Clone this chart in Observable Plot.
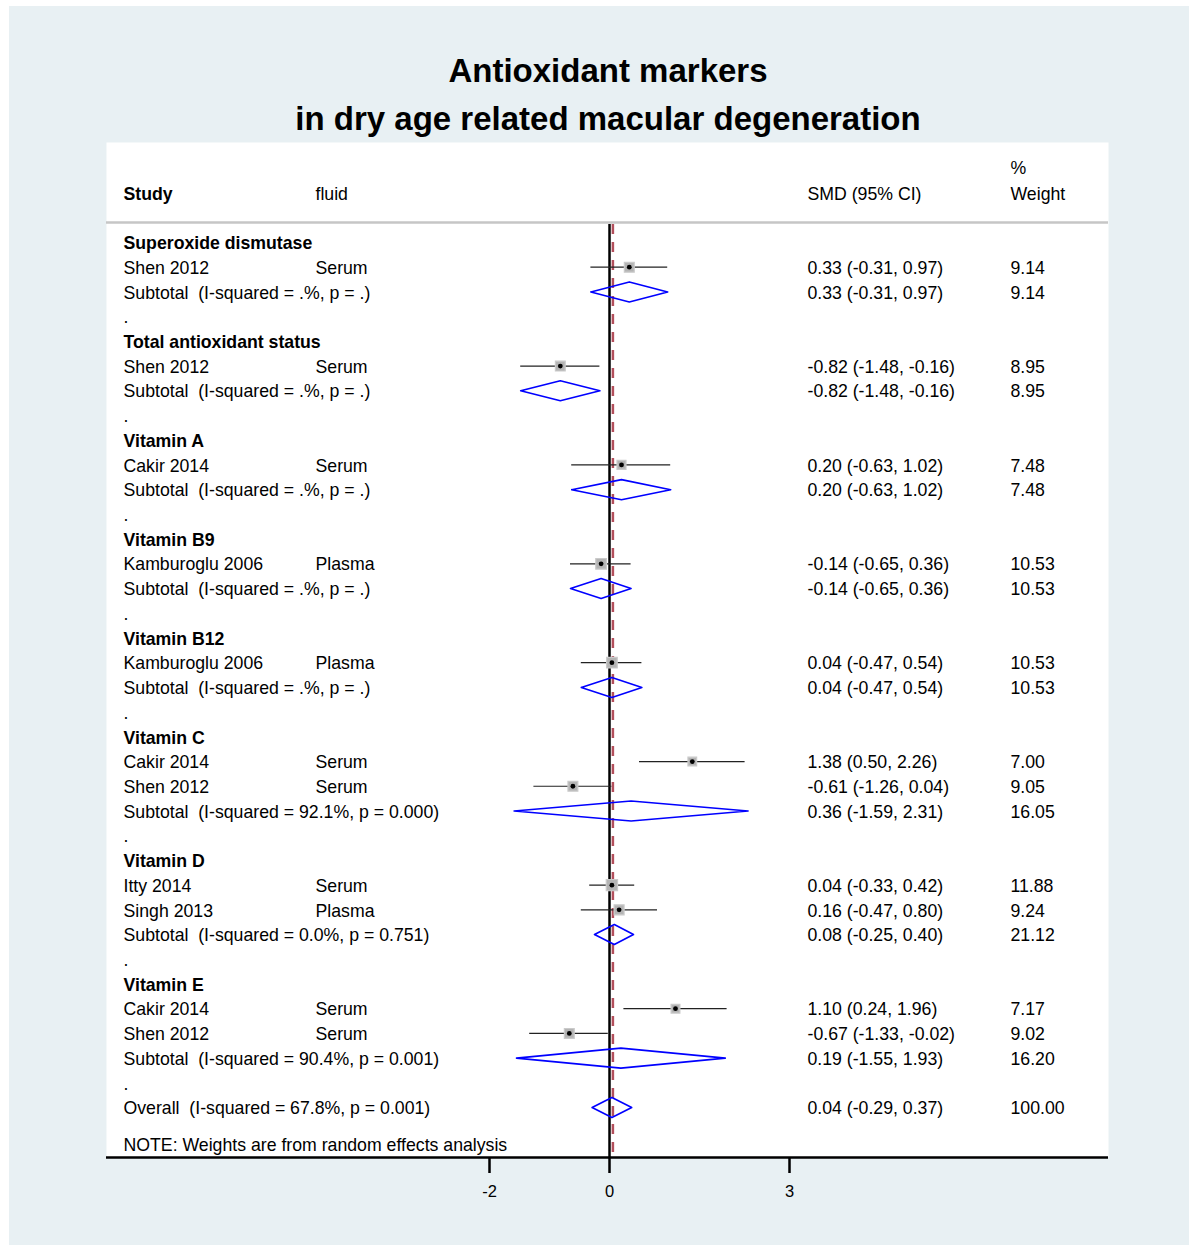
<!DOCTYPE html>
<html>
<head>
<meta charset="utf-8">
<script src="https://cdn.jsdelivr.net/npm/d3@7"></script>
<script src="https://cdn.jsdelivr.net/npm/@observablehq/plot@0.6"></script>
<style>
  html, body { margin: 0; padding: 0; background: #ffffff; }
  #page { position: relative; width: 1189px; height: 1246px; overflow: hidden; font-family: "Liberation Sans", Arial, Helvetica, sans-serif; }
  #bg { position: absolute; left: 9px; top: 6px; width: 1180px; height: 1239px; background: #e8f0f3; }
  #title { position: absolute; left: 0; width: 1216px; top: 47px; text-align: center; font-weight: bold; font-size: 33px; line-height: 48px; color: #000; }
  #chart { position: absolute; left: 0; top: 142px; }
  #chart svg text { white-space: pre; }
</style>
</head>
<body>
<div id="page">
  <div id="bg"></div>
  <div id="title">Antioxidant markers<br>in dry age related macular degeneration</div>
  <div id="chart"></div>
</div>
<script>
// ---------- data ----------
const groups = ["Superoxide dismutase", "Total antioxidant status", "Vitamin A", "Vitamin B9", "Vitamin B12", "Vitamin C", "Vitamin D", "Vitamin E"];

const studyNames  = ["Shen 2012", "Shen 2012", "Cakir 2014", "Kamburoglu 2006", "Kamburoglu 2006", "Cakir 2014", "Shen 2012", "Itty 2014", "Singh 2013", "Cakir 2014", "Shen 2012"];
const studyGroup  = [0, 1, 2, 3, 4, 5, 5, 6, 6, 7, 7];
const studyFluid  = ["Serum", "Serum", "Serum", "Plasma", "Plasma", "Serum", "Serum", "Serum", "Plasma", "Serum", "Serum"];
const studySmd    = [0.33, -0.82, 0.20, -0.14, 0.04, 1.38, -0.61, 0.04, 0.16, 1.10, -0.67];
const studyLo     = [-0.31, -1.48, -0.63, -0.65, -0.47, 0.50, -1.26, -0.33, -0.47, 0.24, -1.33];
const studyHi     = [0.97, -0.16, 1.02, 0.36, 0.54, 2.26, 0.04, 0.42, 0.80, 1.96, -0.02];
const studyWeight = [9.14, 8.95, 7.48, 10.53, 10.53, 7.00, 9.05, 11.88, 9.24, 7.17, 9.02];

const subHet    = [".%, p = .", ".%, p = .", ".%, p = .", ".%, p = .", ".%, p = .", "92.1%, p = 0.000", "0.0%, p = 0.751", "90.4%, p = 0.001"];
const subSmd    = [0.33, -0.82, 0.20, -0.14, 0.04, 0.36, 0.08, 0.19];
const subLo     = [-0.31, -1.48, -0.63, -0.65, -0.47, -1.59, -0.25, -1.55];
const subHi     = [0.97, -0.16, 1.02, 0.36, 0.54, 2.31, 0.40, 1.93];
const subWeight = [9.14, 8.95, 7.48, 10.53, 10.53, 16.05, 21.12, 16.20];

const overallHet = "67.8%, p = 0.001";
const overallSmd = 0.04, overallLo = -0.29, overallHi = 0.37, overallWeight = 100.00;

const xTicks = [-2, 0, 3];
const noteText = "NOTE: Weights are from random effects analysis";

// ---------- build rows ----------
const fmt = v => v.toFixed(2);
const ci = (m, l, h) => `${fmt(m)} (${fmt(l)}, ${fmt(h)})`;

const headRows = [], studyRows = [], summaryRows = [], dotRows = [];
let r = 0;
groups.forEach((g, gi) => {
  headRows.push({row: r++, label: g});
  studyNames.forEach((s, i) => {
    if (studyGroup[i] !== gi) return;
    studyRows.push({row: r++, label: s, fluid: studyFluid[i], smd: studySmd[i], lo: studyLo[i], hi: studyHi[i], w: studyWeight[i]});
  });
  summaryRows.push({row: r++, id: "g" + gi, label: `Subtotal  (I-squared = ${subHet[gi]})`, smd: subSmd[gi], lo: subLo[gi], hi: subHi[gi], w: subWeight[gi]});
  dotRows.push({row: r++, label: "."});
});
summaryRows.push({row: r, id: "overall", label: `Overall  (I-squared = ${overallHet})`, smd: overallSmd, lo: overallLo, hi: overallHi, w: overallWeight});
const noteRow = r + 1.5;

const halfH = 0.405;
const diamondPts = summaryRows.flatMap(d => [
  {id: d.id, x: d.lo, y: d.row},
  {id: d.id, x: d.smd, y: d.row - halfH},
  {id: d.id, x: d.hi, y: d.row},
  {id: d.id, x: d.smd, y: d.row + halfH},
  {id: d.id, x: d.lo, y: d.row}
]);

const numRows = [...studyRows, ...summaryRows];
const leftRows = [...studyRows, ...summaryRows, ...dotRows, {row: noteRow, label: noteText}];

const yTop = -4.046, yAxis = 37.02;
const yHeader = -1.98, yPct = -3.03, yRuleTop = -0.81, yLineTop = -0.73;

const fs = 17.7;
const tdy = 1;
const font = '"Liberation Sans", Arial, Helvetica, sans-serif';

const chart = Plot.plot({
  width: 1189,
  height: 1060,
  marginLeft: 106,
  marginRight: 81,
  marginTop: 0,
  marginBottom: 45,
  style: {background: "transparent", fontFamily: font, color: "#000", overflow: "visible"},
  x: {domain: [(106 - 609) / 60, (1108 - 609) / 60]},
  y: {domain: [yTop, yAxis], range: [0, 1015], axis: null},
  r: {type: "sqrt", domain: [0, 12], range: [0, 6.4]},
  marks: [
    Plot.frame({fill: "white", stroke: null}),
    Plot.ruleY([yRuleTop], {stroke: "#c6c6c6", strokeWidth: 2.5}),
    Plot.ruleX([0], {y1: yLineTop, y2: yAxis, stroke: "#000", strokeWidth: 2.5}),
    Plot.ruleX([overallSmd], {y1: yLineTop, y2: yAxis, stroke: "#b24f5c", strokeWidth: 2.5, strokeDasharray: "10,8", dx: 1}),
    Plot.ruleY(studyRows, {y: "row", x1: "lo", x2: "hi", stroke: "#222", strokeWidth: 1.2}),
    Plot.dot(studyRows, {x: "smd", y: "row", r: "w", symbol: "square", fill: "#b4b4b4", stroke: "#cacaca", strokeWidth: 1.2}),
    Plot.dot(studyRows, {x: "smd", y: "row", r: 2.4, fill: "#000"}),
    Plot.line(diamondPts, {x: "x", y: "y", z: "id", stroke: "#0000ff", strokeWidth: 1.6, fill: "none", curve: "linear"}),
    // header
    Plot.text(["Study"], {frameAnchor: "left", y: yHeader, dx: 17, dy: tdy, textAnchor: "start", fontWeight: "bold", fontSize: fs}),
    Plot.text(["fluid"], {frameAnchor: "left", y: yHeader, dx: 209, dy: tdy, textAnchor: "start", fontSize: fs}),
    Plot.text(["SMD (95% CI)"], {frameAnchor: "left", y: yHeader, dx: 701, dy: tdy, textAnchor: "start", fontSize: fs}),
    Plot.text(["%"], {frameAnchor: "left", y: yPct, dx: 904, dy: tdy, textAnchor: "start", fontSize: fs}),
    Plot.text(["Weight"], {frameAnchor: "left", y: yHeader, dx: 904, dy: tdy, textAnchor: "start", fontSize: fs}),
    // rows
    Plot.text(headRows, {frameAnchor: "left", y: "row", text: "label", dx: 17, dy: tdy, textAnchor: "start", fontWeight: "bold", fontSize: fs}),
    Plot.text(leftRows, {frameAnchor: "left", y: "row", text: "label", dx: 17, dy: tdy, textAnchor: "start", fontSize: fs}),
    Plot.text(studyRows, {frameAnchor: "left", y: "row", text: "fluid", dx: 209, dy: tdy, textAnchor: "start", fontSize: fs}),
    Plot.text(numRows, {frameAnchor: "left", y: "row", text: d => ci(d.smd, d.lo, d.hi), dx: 701, dy: tdy, textAnchor: "start", fontSize: fs}),
    Plot.text(numRows, {frameAnchor: "left", y: "row", text: d => fmt(d.w), dx: 904, dy: tdy, textAnchor: "start", fontSize: fs}),
    // axis
    Plot.ruleY([yAxis], {stroke: "#000", strokeWidth: 2.5}),
    Plot.axisX({ticks: xTicks, tickSize: 16, strokeWidth: 2.5, tickPadding: 12, fontSize: 16.5, label: null, anchor: "bottom", tickFormat: d => String(d)})
  ]
});
document.getElementById("chart").appendChild(chart);
</script>
</body>
</html>
